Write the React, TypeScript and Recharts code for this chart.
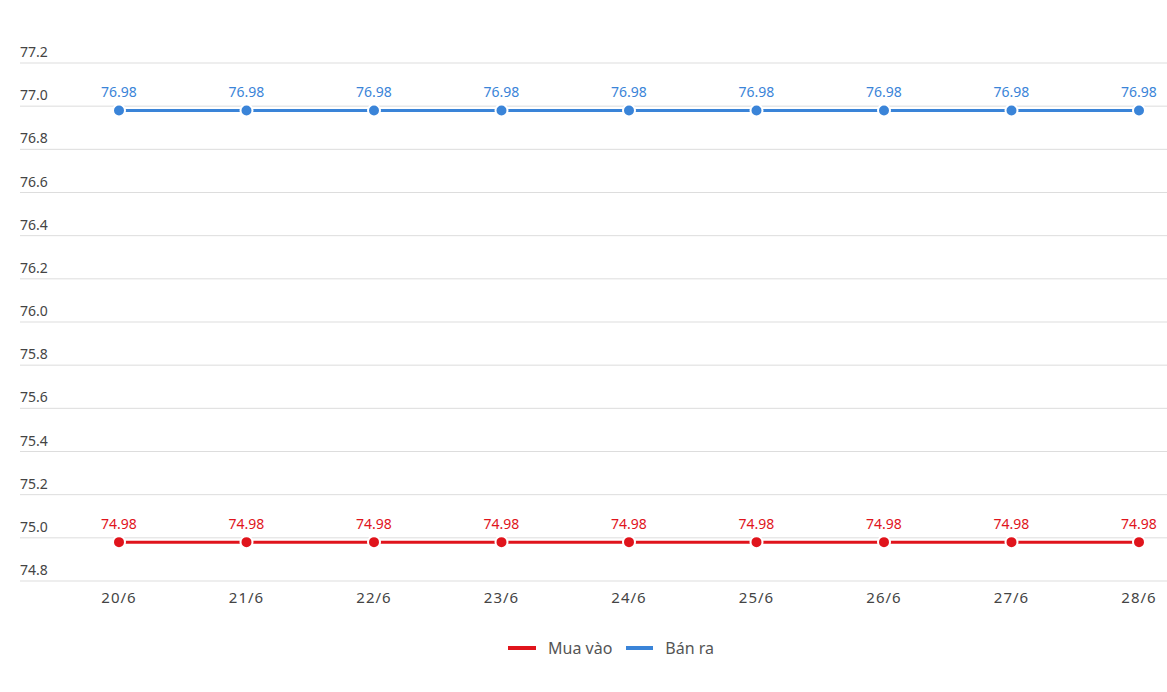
import React from "react";
import { LineChart, Line, XAxis, YAxis, CartesianGrid, LabelList } from "recharts";

const categories = ["20/6", "21/6", "22/6", "23/6", "24/6", "25/6", "26/6", "27/6", "28/6"];
const muaVao = [74.98, 74.98, 74.98, 74.98, 74.98, 74.98, 74.98, 74.98, 74.98];
const banRa = [76.98, 76.98, 76.98, 76.98, 76.98, 76.98, 76.98, 76.98, 76.98];
const yTicks = [74.8, 75.0, 75.2, 75.4, 75.6, 75.8, 76.0, 76.2, 76.4, 76.6, 76.8, 77.0, 77.2];

const RED = "#e0141c";
const BLUE = "#3a84d8";
const FONT = "'Noto Sans', 'Open Sans', sans-serif";

const data = categories.map((c, i) => ({ name: c, mua: muaVao[i], ban: banRa[i] }));

const YTick = (props: any) => {
  const { y, payload } = props;
  return (
    <text x={20} y={y - 6} fill="#444" fontSize={14} fontFamily={FONT} textAnchor="start">
      {Number(payload.value).toFixed(1)}
    </text>
  );
};

export default function App() {
  return (
    <div style={{ position: "absolute", left: 0, top: 0, width: 1167, height: 692, background: "#fff" }}>
      <LineChart width={1167} height={692} data={data} margin={{ top: 63, right: 0, bottom: 81, left: 0 }}>
        <CartesianGrid horizontal vertical={false} stroke="#dddddd" />
        <XAxis
          dataKey="name"
          axisLine={false}
          tickLine={false}
          padding={{ left: 99, right: 28 }}
          tick={{ fill: "#444", fontSize: 15, fontFamily: FONT, letterSpacing: 1 }}
          tickMargin={5}
          interval={0}
        />
        <YAxis
          domain={[74.8, 77.2]}
          ticks={yTicks}
          width={20}
          axisLine={false}
          tickLine={false}
          tick={(p: any) => <YTick {...p} />}
          interval={0}
        />
        <Line
          type="linear"
          dataKey="mua"
          name="Mua vào"
          stroke={RED}
          strokeWidth={3}
          dot={{ r: 6, fill: RED, stroke: "#fff", strokeWidth: 2 }}
          isAnimationActive={false}
        >
          <LabelList dataKey="mua" position="top" offset={13} fill={RED} fontSize={14} fontFamily={FONT} />
        </Line>
        <Line
          type="linear"
          dataKey="ban"
          name="Bán ra"
          stroke={BLUE}
          strokeWidth={3}
          dot={{ r: 6, fill: BLUE, stroke: "#fff", strokeWidth: 2 }}
          isAnimationActive={false}
        >
          <LabelList dataKey="ban" position="top" offset={13} fill={BLUE} fontSize={14} fontFamily={FONT} />
        </Line>
      </LineChart>
      <div
        style={{
          position: "absolute",
          left: 508,
          top: 637,
          display: "flex",
          alignItems: "center",
          fontFamily: FONT,
          fontSize: 16,
          color: "#555",
          whiteSpace: "nowrap",
        }}
      >
        <span style={{ display: "inline-block", width: 28, height: 4, background: RED, marginRight: 12 }} />
        <span style={{ marginRight: 14 }}>Mua vào</span>
        <span style={{ display: "inline-block", width: 27, height: 4, background: BLUE, marginRight: 12 }} />
        <span>Bán ra</span>
      </div>
    </div>
  );
}
